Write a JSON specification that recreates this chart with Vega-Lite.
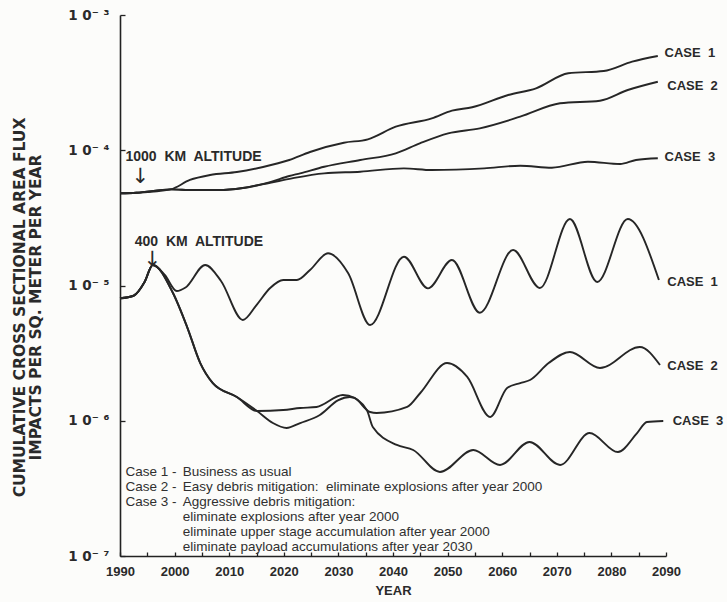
{
  "$schema": "https://vega.github.io/schema/vega-lite/v6.json",
  "autosize": {"type": "none"},
  "width": 546,
  "height": 541,
  "padding": {"left": 120, "top": 15, "right": 61, "bottom": 46},
  "background": "#fcfcfa",
  "config": {"view": {"stroke": null}},
  "datasets": {
    "lines": [
      {"series":"k1","year":1990,"flux":4.81e-5},{"series":"k1","year":1993,"flux":4.85e-5},{"series":"k1","year":1999.3,"flux":5.14e-5},{"series":"k1","year":2002.8,"flux":6.03e-5},{"series":"k1","year":2006.5,"flux":6.56e-5},{"series":"k1","year":2011.4,"flux":6.9e-5},{"series":"k1","year":2016.2,"flux":7.52e-5},{"series":"k1","year":2021,"flux":8.47e-5},{"series":"k1","year":2024.8,"flux":9.71e-5},{"series":"k1","year":2031,"flux":1.137e-4},{"series":"k1","year":2035.4,"flux":1.205e-4},{"series":"k1","year":2040.5,"flux":1.493e-4},{"series":"k1","year":2047.1,"flux":1.722e-4},{"series":"k1","year":2050.8,"flux":1.961e-4},{"series":"k1","year":2054.5,"flux":2.078e-4},{"series":"k1","year":2061.1,"flux":2.562e-4},{"series":"k1","year":2066.2,"flux":2.871e-4},{"series":"k1","year":2072.1,"flux":3.706e-4},{"series":"k1","year":2078.6,"flux":3.855e-4},{"series":"k1","year":2083.8,"flux":4.515e-4},{"series":"k1","year":2088.5,"flux":4.974e-4},
      {"series":"k2","year":1990,"flux":4.81e-5},{"series":"k2","year":1993,"flux":4.85e-5},{"series":"k2","year":1999.3,"flux":5.14e-5},{"series":"k2","year":2003.4,"flux":5.08e-5},{"series":"k2","year":2008,"flux":5.08e-5},{"series":"k2","year":2012.5,"flux":5.26e-5},{"series":"k2","year":2017.5,"flux":5.82e-5},{"series":"k2","year":2021,"flux":6.45e-5},{"series":"k2","year":2023,"flux":6.75e-5},{"series":"k2","year":2027.4,"flux":7.55e-5},{"series":"k2","year":2034,"flux":8.47e-5},{"series":"k2","year":2040.5,"flux":9.49e-5},{"series":"k2","year":2044.9,"flux":1.125e-4},{"series":"k2","year":2050.1,"flux":1.334e-4},{"series":"k2","year":2055.9,"flux":1.453e-4},{"series":"k2","year":2063.3,"flux":1.77e-4},{"series":"k2","year":2070.6,"flux":2.224e-4},{"series":"k2","year":2077.9,"flux":2.325e-4},{"series":"k2","year":2083,"flux":2.789e-4},{"series":"k2","year":2088.5,"flux":3.212e-4},
      {"series":"k3","year":1990,"flux":4.81e-5},{"series":"k3","year":1993,"flux":4.85e-5},{"series":"k3","year":1999.3,"flux":5.14e-5},{"series":"k3","year":2003.4,"flux":5.08e-5},{"series":"k3","year":2008,"flux":5.08e-5},{"series":"k3","year":2012.5,"flux":5.26e-5},{"series":"k3","year":2017.5,"flux":5.75e-5},{"series":"k3","year":2021.5,"flux":6.2e-5},{"series":"k3","year":2027.4,"flux":6.75e-5},{"series":"k3","year":2034,"flux":6.94e-5},{"series":"k3","year":2042,"flux":7.35e-5},{"series":"k3","year":2047.1,"flux":7.14e-5},{"series":"k3","year":2056.7,"flux":7.35e-5},{"series":"k3","year":2063.3,"flux":7.69e-5},{"series":"k3","year":2069.1,"flux":7.43e-5},{"series":"k3","year":2075.7,"flux":8.23e-5},{"series":"k3","year":2081.6,"flux":7.91e-5},{"series":"k3","year":2084.5,"flux":8.47e-5},{"series":"k3","year":2088.5,"flux":8.72e-5},
      {"series":"h1","year":1990,"flux":8.04e-6},{"series":"h1","year":1992.5,"flux":8.4e-6},{"series":"h1","year":1994.5,"flux":1.06e-5},{"series":"h1","year":1996,"flux":1.418e-5},{"series":"h1","year":1998.2,"flux":1.196e-5},{"series":"h1","year":2000.4,"flux":9.1e-6},{"series":"h1","year":2002,"flux":9.66e-6},{"series":"h1","year":2005.6,"flux":1.418e-5},{"series":"h1","year":2008.5,"flux":1.08e-5},{"series":"h1","year":2012.5,"flux":5.56e-6},{"series":"h1","year":2015,"flux":7.17e-6},{"series":"h1","year":2017.5,"flux":9.58e-6},{"series":"h1","year":2019.9,"flux":1.098e-5},{"series":"h1","year":2022.4,"flux":1.098e-5},{"series":"h1","year":2024.8,"flux":1.302e-5},{"series":"h1","year":2028.1,"flux":1.73e-5},{"series":"h1","year":2031.8,"flux":1.231e-5},{"series":"h1","year":2035.8,"flux":5.1e-6},{"series":"h1","year":2042,"flux":1.633e-5},{"series":"h1","year":2046.4,"flux":9.53e-6},{"series":"h1","year":2050.8,"flux":1.543e-5},{"series":"h1","year":2055.9,"flux":6.29e-6},{"series":"h1","year":2062,"flux":1.83e-5},{"series":"h1","year":2066.9,"flux":9.58e-6},{"series":"h1","year":2072.4,"flux":3.1e-5},{"series":"h1","year":2077.4,"flux":1.062e-5},{"series":"h1","year":2083,"flux":3.1e-5},{"series":"h1","year":2088.7,"flux":1.098e-5},
      {"series":"h2","year":1990,"flux":8.04e-6},{"series":"h2","year":1992.5,"flux":8.4e-6},{"series":"h2","year":1994.5,"flux":1.06e-5},{"series":"h2","year":1996,"flux":1.418e-5},{"series":"h2","year":1999.7,"flux":8.8e-6},{"series":"h2","year":2002.3,"flux":4.93e-6},{"series":"h2","year":2004.7,"flux":2.67e-6},{"series":"h2","year":2007,"flux":1.9e-6},{"series":"h2","year":2011.4,"flux":1.498e-6},{"series":"h2","year":2015.1,"flux":1.18e-6},{"series":"h2","year":2019.9,"flux":1.2e-6},{"series":"h2","year":2023,"flux":1.242e-6},{"series":"h2","year":2026,"flux":1.264e-6},{"series":"h2","year":2030.8,"flux":1.551e-6},{"series":"h2","year":2033,"flux":1.473e-6},{"series":"h2","year":2035.8,"flux":1.16e-6},{"series":"h2","year":2037,"flux":1.141e-6},{"series":"h2","year":2042.6,"flux":1.264e-6},{"series":"h2","year":2045,"flux":1.604e-6},{"series":"h2","year":2049.9,"flux":2.67e-6},{"series":"h2","year":2053.6,"flux":2.107e-6},{"series":"h2","year":2057.8,"flux":1.066e-6},{"series":"h2","year":2060.9,"flux":1.747e-6},{"series":"h2","year":2063.3,"flux":1.9e-6},{"series":"h2","year":2065.1,"flux":2.001e-6},{"series":"h2","year":2068.5,"flux":2.67e-6},{"series":"h2","year":2072.4,"flux":3.224e-6},{"series":"h2","year":2077.9,"flux":2.455e-6},{"series":"h2","year":2085.2,"flux":3.51e-6},{"series":"h2","year":2088.9,"flux":2.584e-6},
      {"series":"h3","year":1990,"flux":8.04e-6},{"series":"h3","year":1992.5,"flux":8.4e-6},{"series":"h3","year":1994.5,"flux":1.06e-5},{"series":"h3","year":1996,"flux":1.418e-5},{"series":"h3","year":1999.7,"flux":8.8e-6},{"series":"h3","year":2002.3,"flux":4.93e-6},{"series":"h3","year":2004.7,"flux":2.67e-6},{"series":"h3","year":2007,"flux":1.9e-6},{"series":"h3","year":2011.4,"flux":1.498e-6},{"series":"h3","year":2015.1,"flux":1.18e-6},{"series":"h3","year":2018,"flux":9.62e-7},{"series":"h3","year":2020.5,"flux":8.84e-7},{"series":"h3","year":2023,"flux":9.62e-7},{"series":"h3","year":2026.6,"flux":1.103e-6},{"series":"h3","year":2030,"flux":1.423e-6},{"series":"h3","year":2032.1,"flux":1.498e-6},{"series":"h3","year":2035.2,"flux":1.2e-6},{"series":"h3","year":2036.3,"flux":8.99e-7},{"series":"h3","year":2040.7,"flux":6.62e-7},{"series":"h3","year":2043.7,"flux":6.08e-7},{"series":"h3","year":2048.6,"flux":4.18e-7},{"series":"h3","year":2054.7,"flux":6.08e-7},{"series":"h3","year":2059.6,"flux":4.71e-7},{"series":"h3","year":2065,"flux":6.97e-7},{"series":"h3","year":2070.6,"flux":4.71e-7},{"series":"h3","year":2076,"flux":8.11e-7},{"series":"h3","year":2081.2,"flux":5.87e-7},{"series":"h3","year":2084.7,"flux":8.11e-7},{"series":"h3","year":2086.5,"flux":9.79e-7},{"series":"h3","year":2089.5,"flux":9.96e-7}
    ],
    "caseLabels": [
      {"label":"CASE\u00a0 1","year":2089,"flux":5.2e-4},
      {"label":"CASE\u00a0 2","year":2089.5,"flux":2.99e-4},
      {"label":"CASE\u00a0 3","year":2089,"flux":8.9e-5},
      {"label":"CASE\u00a0 1","year":2089.5,"flux":1.06e-5},
      {"label":"CASE\u00a0 2","year":2089.5,"flux":2.54e-6},
      {"label":"CASE\u00a0 3","year":2090.5,"flux":9.96e-7}
    ],
    "altitudes": [
      {"label":"1000\u00a0 KM\u00a0 ALTITUDE","year":1991,"flux":8.91e-5},
      {"label":"400\u00a0 KM\u00a0 ALTITUDE","year":1992.7,"flux":2.1e-5}
    ],
    "arrows": [
      {"label":"↓","year":1993.7,"flux":6.3e-5},
      {"label":"↓","year":1995.9,"flux":1.55e-5}
    ],
    "legendText": [
      {"label":"Case 1 -\nCase 2 -\nCase 3 -","year":1991,"flux":4.7e-7},
      {"label":"Business as usual\nEasy debris mitigation:\u00a0 eliminate explosions after year 2000\nAggressive debris mitigation:\neliminate explosions after year 2000\neliminate upper stage accumulation after year 2000\neliminate payload accumulations after year 2030","year":2001.5,"flux":4.7e-7}
    ]
  },
  "encoding": {
    "x": {
      "field": "year", "type": "quantitative",
      "scale": {"domain": [1990, 2090], "nice": false, "zero": false},
      "axis": {
        "title": "YEAR",
        "values": [1990,1995,2000,2005,2010,2015,2020,2025,2030,2035,2040,2045,2050,2055,2060,2065,2070,2075,2080,2085,2090],
        "labelExpr": "datum.value % 10 == 0 ? datum.label : ''",
        "format": "d",
        "grid": false,
        "domainColor": "#222", "domainWidth": 1.6,
        "tickColor": "#222", "tickWidth": 1.3, "tickSize": -4,
        "labelFlush": false, "labelOverlap": false,
        "labelFont": "Liberation Sans", "labelFontWeight": "bold", "labelFontSize": 13, "labelColor": "#2a2a2a",
        "labelPadding": 13,
        "titleFont": "Liberation Sans", "titleFontWeight": "bold", "titleFontSize": 13, "titleColor": "#2a2a2a",
        "titlePadding": 6
      }
    },
    "y": {
      "field": "flux", "type": "quantitative",
      "scale": {"type": "log", "domain": [1e-7, 1e-3], "nice": false},
      "axis": {
        "title": ["CUMULATIVE CROSS SECTIONAL AREA FLUX", "IMPACTS PER SQ. METER PER YEAR"],
        "values": [1e-7, 1e-6, 1e-5, 1e-4, 1e-3],
        "labelExpr": "datum.value < 5e-7 ? '1 0⁻ ⁷' : datum.value < 5e-6 ? '1 0⁻ ⁶' : datum.value < 5e-5 ? '1 0⁻ ⁵' : datum.value < 5e-4 ? '1 0⁻ ⁴' : '1 0⁻ ³'",
        "grid": false,
        "domainColor": "#222", "domainWidth": 1.6,
        "tickColor": "#222", "tickWidth": 1.3, "tickSize": -5,
        "labelFont": "DejaVu Sans", "labelFontWeight": "bold", "labelFontSize": 13.5, "labelColor": "#2a2a2a",
        "labelPadding": 16,
        "titleFont": "DejaVu Sans", "titleFontWeight": "bold", "titleFontSize": 15.5, "titleColor": "#2a2a2a",
        "titleAngle": -90, "titleAlign": "center", "titleBaseline": "top",
        "titleX": -108, "titleY": 292, "titleLineHeight": 16
      }
    }
  },
  "layer": [
    {
      "data": {"name": "lines"},
      "mark": {"type": "line", "interpolate": "monotone", "stroke": "#262626", "strokeWidth": 1.9},
      "encoding": {"detail": {"field": "series"}}
    },
    {
      "data": {"name": "caseLabels"},
      "mark": {"type": "text", "align": "left", "baseline": "middle", "dx": 4, "font": "Liberation Sans", "fontWeight": "bold", "fontSize": 13, "fill": "#2a2a2a"},
      "encoding": {"text": {"field": "label"}}
    },
    {
      "data": {"name": "altitudes"},
      "mark": {"type": "text", "align": "left", "baseline": "middle", "font": "Liberation Sans", "fontWeight": "bold", "fontSize": 14, "fill": "#2a2a2a"},
      "encoding": {"text": {"field": "label"}}
    },
    {
      "data": {"name": "arrows"},
      "mark": {"type": "text", "align": "center", "baseline": "middle", "font": "DejaVu Sans", "fontSize": 21, "fill": "#2a2a2a"},
      "encoding": {"text": {"field": "label"}}
    },
    {
      "data": {"name": "legendText"},
      "mark": {"type": "text", "align": "left", "baseline": "top", "lineBreak": "\n", "lineHeight": 15, "font": "Liberation Sans", "fontSize": 13.5, "fill": "#303030"},
      "encoding": {"text": {"field": "label"}}
    }
  ]
}
